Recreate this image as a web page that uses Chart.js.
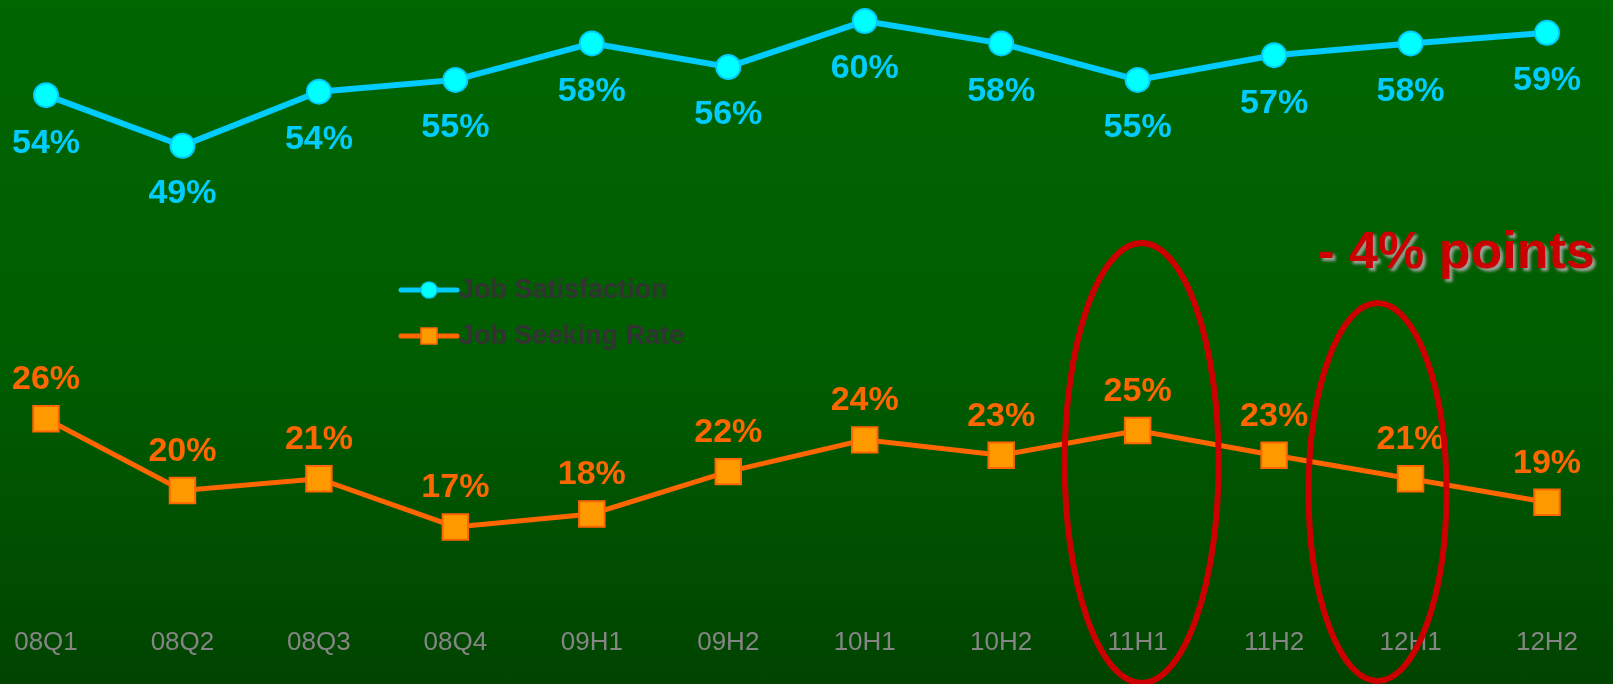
<!DOCTYPE html>
<html>
<head>
<meta charset="utf-8">
<script src="https://cdn.jsdelivr.net/npm/chart.js@4.4.1/dist/chart.umd.min.js"></script>
<style>
  html, body { margin: 0; padding: 0; }
  body { background: linear-gradient(to bottom, #006600 0%, #005c00 55%, #004400 100%); }
  #wrap { position: relative; width: 1613px; height: 684px; }
</style>
</head>
<body>
<div id="wrap"><canvas id="chart"></canvas></div>
<script>
// periods on the x axis
const periods = ['08Q1', '08Q2', '08Q3', '08Q4', '09H1', '09H2', '10H1', '10H2', '11H1', '11H2', '12H1', '12H2'];

// values (percent)
const jobSatisfaction = [53.7, 49.4, 54.0, 55.0, 58.1, 56.1, 60.0, 58.1, 55.0, 57.1, 58.1, 59.0];
const jobSeekingRate  = [26.2, 20.1, 21.1, 17.0, 18.1, 21.7, 24.4, 23.1, 25.2, 23.1, 21.1, 19.1];

// circled periods and the note
const circledPeriods = ['11H1', '12H1'];
const noteText = '- 4% points';

const labelFont = "bold 34px 'Liberation Sans', Arial, sans-serif";

// value labels next to every point
const valueLabels = {
  id: 'valueLabels',
  afterDatasetsDraw(chart) {
    const ctx = chart.ctx;
    ctx.save();
    ctx.font = labelFont;
    ctx.textAlign = 'center';
    ctx.textBaseline = 'middle';
    chart.data.datasets.forEach((ds, di) => {
      const meta = chart.getDatasetMeta(di);
      ctx.fillStyle = ds.labelColor;
      meta.data.forEach((pt, i) => {
        ctx.fillText(Math.round(ds.data[i]) + '%', pt.x, pt.y + ds.labelOffset);
      });
    });
    ctx.restore();
  }
};

// legend placed inside the plot like the original
const innerLegend = {
  id: 'innerLegend',
  afterDraw(chart) {
    const ctx = chart.ctx;
    const x0 = 401, x1 = 457, rows = [290, 336];
    ctx.save();
    chart.data.datasets.forEach((ds, di) => {
      const y = rows[di];
      ctx.strokeStyle = ds.borderColor;
      ctx.lineWidth = 5;
      ctx.lineCap = 'round';
      ctx.beginPath(); ctx.moveTo(x0, y); ctx.lineTo(x1, y); ctx.stroke();
      ctx.fillStyle = ds.pointBackgroundColor;
      ctx.strokeStyle = ds.pointBorderColor;
      ctx.lineWidth = 1.5;
      if (ds.pointStyle === 'rect') {
        ctx.fillRect(421, y - 8, 16, 16);
        ctx.strokeRect(421, y - 8, 16, 16);
      } else {
        ctx.beginPath(); ctx.arc(429, y, 8, 0, Math.PI * 2); ctx.fill(); ctx.stroke();
      }
      ctx.fillStyle = '#333333';
      ctx.font = "bold 27px 'Liberation Sans', Arial, sans-serif";
      ctx.textAlign = 'left';
      ctx.textBaseline = 'middle';
      ctx.fillText(ds.label, 459, y + 1);
    });
    ctx.restore();
  }
};

// red ellipses and the note
const highlights = {
  id: 'highlights',
  afterDraw(chart) {
    const ctx = chart.ctx;
    const xs = chart.scales.x;
    const shapes = [
      { cx: xs.getPixelForValue(periods.indexOf(circledPeriods[0])) + 4, cy: 463, rx: 77, ry: 220 },
      { cx: xs.getPixelForValue(periods.indexOf(circledPeriods[1])) - 33, cy: 492, rx: 69, ry: 189 }
    ];
    ctx.save();
    ctx.strokeStyle = '#CC0000';
    ctx.lineWidth = 6;
    shapes.forEach(s => {
      ctx.beginPath();
      ctx.ellipse(s.cx, s.cy, s.rx, s.ry, 0, 0, Math.PI * 2);
      ctx.stroke();
    });
    ctx.font = "bold 52px 'Liberation Sans', Arial, sans-serif";
    ctx.textAlign = 'center';
    ctx.textBaseline = 'alphabetic';
    ctx.shadowColor = 'rgba(170,170,170,0.9)';
    ctx.shadowOffsetX = 3;
    ctx.shadowOffsetY = 3;
    ctx.shadowBlur = 3;
    ctx.fillStyle = '#CC0000';
    ctx.fillText(noteText, 1456, 268);
    ctx.restore();
  }
};

new Chart(document.getElementById('chart'), {
  type: 'line',
  data: {
    labels: periods,
    datasets: [{
      label: 'Job Satisfaction',
      data: jobSatisfaction,
      borderColor: '#00CCFF',
      borderWidth: 6,
      pointStyle: 'circle',
      pointRadius: 12,
      pointBackgroundColor: '#00FFFF',
      pointBorderColor: '#00CCFF',
      pointBorderWidth: 2,
      labelColor: '#00CCFF',
      labelOffset: 48,
      clip: false
    }, {
      label: 'Job Seeking Rate',
      data: jobSeekingRate,
      borderColor: '#FF6600',
      borderWidth: 5,
      pointStyle: 'rect',
      pointRadius: 18,
      pointBackgroundColor: '#FF9900',
      pointBorderColor: '#FF6600',
      pointBorderWidth: 2,
      labelColor: '#FF6600',
      labelOffset: -39,
      clip: false
    }]
  },
  options: {
    responsive: true,
    maintainAspectRatio: false,
    animation: false,
    layout: { padding: { top: 9, left: 46, right: 66, bottom: 0 } },
    elements: { line: { tension: 0 } },
    scales: {
      x: {
        offset: false,
        grid: { display: false, drawTicks: false },
        border: { display: false },
        afterFit(scale) {
          // keep the plot area fixed, labels may overhang
          scale.paddingLeft = 0;
          scale.paddingRight = 0;
          scale.height = 84;
        },
        ticks: {
          color: '#858585',
          padding: 27,
          maxRotation: 0,
          autoSkip: false,
          font: { family: "'Liberation Sans', Arial, sans-serif", size: 26 }
        }
      },
      y: {
        display: false,
        min: 10.79,
        max: 60.09
      }
    },
    plugins: {
      legend: { display: false },
      tooltip: { enabled: false }
    }
  },
  plugins: [valueLabels, innerLegend, highlights]
});
</script>
</body>
</html>
